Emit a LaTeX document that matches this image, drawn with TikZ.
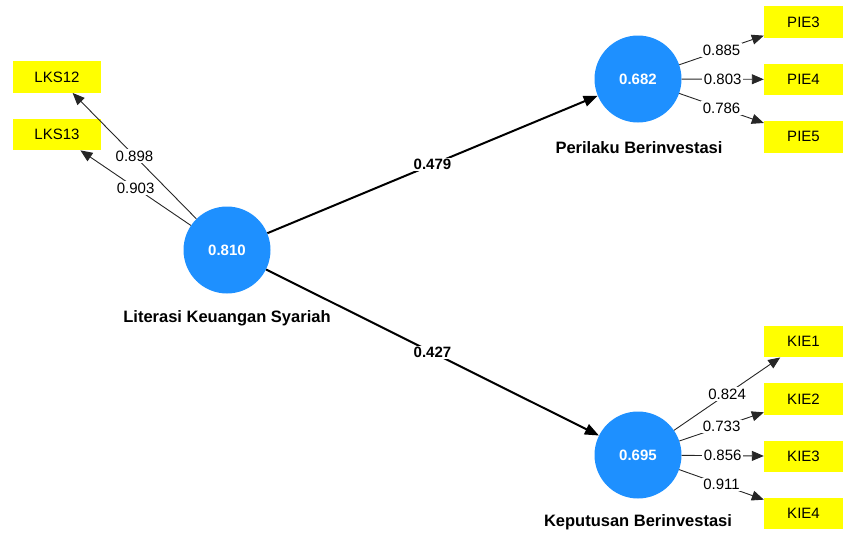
\documentclass[tikz,border=0pt]{standalone}
\usepackage{fontspec}
\setmainfont{Liberation Sans}
\usetikzlibrary{arrows.meta, positioning}
\definecolor{cLatent}{RGB}{30,144,255}
\definecolor{cItem}{RGB}{255,255,0}
\tikzset{
    latent/.style ={circle, minimum size=87pt, inner sep=0pt, fill=cLatent, text=white, font=\fontsize{15}{18}\selectfont\bfseries},
    item/.style   ={rectangle, minimum width=79pt, minimum height=31.5pt, inner sep=0pt, fill=cItem},
    lvname/.style ={font=\fontsize{16.5}{19}\selectfont\bfseries},
    loading/.style={-{Triangle[length=12pt, width=10pt]}, line width=0.9pt, draw=black!85},
    coef/.style   ={-{Triangle[length=14pt, width=11pt]}, line width=2pt},
    weight/.style ={fill=white, inner sep=1.5pt},
    bweight/.style={fill=white, inner sep=1.5pt, font=\fontsize{15}{18}\selectfont\bfseries},
}
\begin{document}
\begin{tikzpicture}[x=1pt, y=-1pt, font=\fontsize{15}{18}\selectfont, node distance=25.5pt]
    \useasboundingbox (0,0) rectangle (844,533);
    % latent variables
    \node[latent] (lks) at (227,250) {0.810};
    \node[latent] (pie) at (638,79) {0.682};
    \node[latent] (kie) at (638,455) {0.695};
    \node[lvname] (lksname) at (227,318) {Literasi Keuangan Syariah};
    \node[lvname] (piename) at (639,148) {Perilaku Berinvestasi};
    \node[lvname] (kiename) at (638,522) {Keputusan Berinvestasi};
    % indicators
    \node[item, minimum width=88pt] (lks12) at (57,77) {LKS12};
    \node[item, minimum width=88pt, below=of lks12] (lks13) {LKS13};
    \node[item] (pie3) at (803.5,22) {PIE3};
    \node[item, below=of pie3] (pie4) {PIE4};
    \node[item, below=of pie4] (pie5) {PIE5};
    \node[item] (kie1) at (803.5,341.5) {KIE1};
    \node[item, below=of kie1] (kie2) {KIE2};
    \node[item, below=of kie2] (kie3) {KIE3};
    \node[item, below=of kie3] (kie4) {KIE4};
    % loadings
    \draw[loading] (lks) -- node[weight]{0.898} (lks12);
    \draw[loading] (lks) -- node[weight]{0.903} (lks13);
    \draw[loading] (pie) -- node[weight]{0.885} (pie3);
    \draw[loading] (pie) -- node[weight]{0.803} (pie4);
    \draw[loading] (pie) -- node[weight]{0.786} (pie5);
    \draw[loading] (kie) -- node[weight]{0.824} (kie1);
    \draw[loading] (kie) -- node[weight]{0.733} (kie2);
    \draw[loading] (kie) -- node[weight]{0.856} (kie3);
    \draw[loading] (kie) -- node[weight]{0.911} (kie4);
    % path coefficients
    \draw[coef] (lks) -- node[bweight]{0.479} (pie);
    \draw[coef] (lks) -- node[bweight]{0.427} (kie);
\end{tikzpicture}
\end{document}
